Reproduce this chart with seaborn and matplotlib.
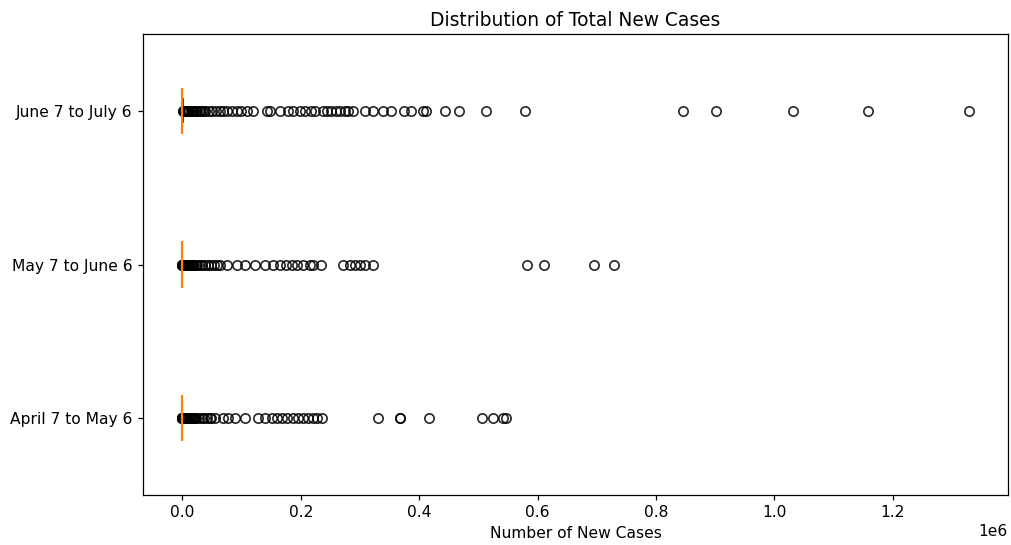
import matplotlib
matplotlib.use("Agg")
import matplotlib.pyplot as plt
import matplotlib.colors as mcolors
import seaborn as sns
import pandas as pd

periods = ["June 7 to July 6", "May 7 to June 6", "April 7 to May 6"]

# many near-zero daily values (inside the collapsed box)
june_core = [
    0, 0, 0, 0, 0, 0, 0, 0, 0, 0, 0, 0, 0, 0, 0, 0, 0, 0, 0, 0,
    0, 0, 0, 0, 0, 0, 0, 0, 0, 0, 0, 0, 0, 0, 0, 0, 0, 0, 0, 0,
    0, 0, 0, 0, 0, 0, 0, 0, 0, 0, 0, 0, 0, 0, 0, 0, 0, 0, 0, 0,
    0, 0, 0, 0, 0, 0, 0, 0, 0, 0, 0, 0, 0, 0, 0, 0, 0, 0, 0, 0,
    0, 0, 0, 0, 0, 0, 0, 0, 0, 0, 0, 0, 0, 0, 0, 0, 0, 0, 0, 0,
    0, 0, 0, 0, 0, 0, 0, 0, 0, 0, 0, 0, 0, 0, 0, 0, 0, 0, 0, 0,
    0, 0, 0, 0, 0, 0, 0, 0, 0, 0, 0, 0, 0, 0, 0, 0, 0, 0, 0, 0,
    0, 0, 0, 0, 0, 0, 0, 0, 0, 0, 0, 0, 0, 0, 0, 0, 0, 0, 0, 0,
    0, 0, 0, 0, 0, 1, 1, 1, 1, 2, 2, 2, 3, 3, 4, 4, 5, 5, 6, 7,
    8, 9, 10, 11, 12, 14, 15, 17, 19, 21, 23, 25, 28, 31, 34, 37, 41, 45, 49, 54,
    59, 64, 70, 76, 83, 90, 98, 106, 115, 125, 135, 146, 158, 170, 183, 197, 212, 228, 245, 263,
]
may_core = [
    0, 0, 0, 0, 0, 0, 0, 0, 0, 0, 0, 0, 0, 0, 0, 0, 0, 0, 0, 0,
    0, 0, 0, 0, 0, 0, 0, 0, 0, 0, 0, 0, 0, 0, 0, 0, 0, 0, 0, 0,
    0, 0, 0, 0, 0, 0, 0, 0, 0, 0, 0, 0, 0, 0, 0, 0, 0, 0, 0, 0,
    0, 0, 0, 0, 0, 0, 0, 0, 0, 0, 0, 0, 0, 0, 0, 0, 0, 0, 0, 0,
    0, 0, 0, 0, 0, 0, 0, 0, 0, 0, 0, 0, 0, 0, 0, 0, 0, 0, 0, 0,
    0, 0, 0, 0, 0, 0, 0, 0, 0, 0, 0, 0, 0, 0, 0, 0, 0, 0, 0, 0,
    0, 0, 0, 0, 0, 0, 0, 0, 0, 0, 0, 0, 0, 0, 0, 0, 0, 0, 0, 0,
    0, 0, 0, 0, 0, 0, 0, 0, 0, 0, 0, 0, 0, 0, 0, 0, 0, 0, 0, 0,
    0, 0, 0, 0, 1, 1, 1, 2, 2, 2, 3, 3, 3, 4, 5, 5, 6, 7, 8, 9,
    10, 11, 12, 13, 15, 16, 18, 20, 22, 24, 27, 30, 33, 36, 40, 44, 48, 53, 58, 63,
    69, 75, 82, 89, 97, 105, 114, 124, 134, 145, 157, 169, 182, 196, 211, 227, 244, 262, 281, 300,
]
april_core = [
    0, 0, 0, 0, 0, 0, 0, 0, 0, 0, 0, 0, 0, 0, 0, 0, 0, 0, 0, 0,
    0, 0, 0, 0, 0, 0, 0, 0, 0, 0, 0, 0, 0, 0, 0, 0, 0, 0, 0, 0,
    0, 0, 0, 0, 0, 0, 0, 0, 0, 0, 0, 0, 0, 0, 0, 0, 0, 0, 0, 0,
    0, 0, 0, 0, 0, 0, 0, 0, 0, 0, 0, 0, 0, 0, 0, 0, 0, 0, 0, 0,
    0, 0, 0, 0, 0, 0, 0, 0, 0, 0, 0, 0, 0, 0, 0, 0, 0, 0, 0, 0,
    0, 0, 0, 0, 0, 0, 0, 0, 0, 0, 0, 0, 0, 0, 0, 0, 0, 0, 0, 0,
    0, 0, 0, 0, 0, 0, 0, 0, 0, 0, 0, 0, 0, 0, 0, 0, 0, 0, 0, 0,
    0, 0, 0, 0, 0, 0, 0, 0, 0, 0, 0, 0, 0, 0, 0, 0, 0, 0, 0, 0,
    0, 0, 0, 0, 0, 0, 1, 1, 1, 1, 2, 2, 2, 3, 3, 4, 4, 5, 6, 7,
    8, 9, 10, 11, 12, 13, 15, 17, 19, 21, 23, 26, 29, 32, 35, 39, 43, 47, 52, 57,
    62, 68, 74, 81, 88, 96, 104, 113, 123, 133, 144, 156, 168, 181, 195, 210, 226, 243, 261, 280,
]

# dense cluster of smaller outliers
june_small = [400, 900, 1500, 2200, 3000, 4000, 5000, 6200, 7500, 9000, 10500, 12200,
              14000, 16000, 18000, 20200, 22500, 25000, 27500, 30200, 33000, 36000,
              39000, 45000, 51000, 57000, 63000]
may_small = [400, 900, 1400, 2000, 2800, 3700, 4600, 5700, 7000, 8400, 9800, 11400,
             13000, 14700, 16500, 18500, 20500, 22700, 25000, 29500, 34000, 39000,
             44000, 48000, 53000]
april_small = [400, 900, 1400, 2000, 2800, 3600, 4500, 5600, 6800, 8100, 9500, 11000,
               12500, 14200, 16000, 17900, 19800, 21900, 24000, 28500, 33000, 37500,
               42000, 46000, 49000]

# larger outliers
june_large = [68000, 75000, 84000, 92000, 100000, 109000, 120000, 142600, 148000, 165000,
              179000, 187000, 199000, 207000, 218000, 224000, 238000, 243600, 252000,
              260000, 266000, 274000, 280000, 289000, 308000, 322000, 339000, 353000,
              375000, 387000, 406000, 412000, 443000, 468000, 513000, 578000,
              845000, 902000, 1032000, 1158000, 1328000]
may_large = [58000, 64000, 75300, 92000, 106000, 123000, 140000, 153700, 165000, 176000,
             184700, 193000, 204000, 215500, 221000, 235000, 271500, 283000, 291000,
             299700, 308000, 322000, 582000, 611000, 695000, 729000]
april_large = [55000, 69500, 78000, 89000, 106000, 128500, 139700, 151000, 159400,
               167800, 176300, 187400, 195800, 204200, 212600, 221000, 226800, 235200,
               330500, 367000, 368500, 417500, 507000, 524000, 541000, 546600]

june_vals = june_core + june_small + june_large
may_vals = may_core + may_small + may_large
april_vals = april_core + april_small + april_large

df = pd.DataFrame({
    "period": [periods[0]] * len(june_vals) + [periods[1]] * len(may_vals)
              + [periods[2]] * len(april_vals),
    "cases": june_vals + may_vals + april_vals,
})

fig = plt.figure(figsize=(10.11, 5.45), dpi=100)
ax = fig.add_axes([0.1414, 0.0917, 0.997 - 0.1414, 0.9376 - 0.0917])

MEDIAN_COLOR = "#ff7f0e"
sns.boxplot(
    data=df, x="cases", y="period", order=periods, ax=ax,
    width=0.3, whis=1.5, color="white", linecolor="black", linewidth=1.1,
    medianprops=dict(color=MEDIAN_COLOR, linewidth=1.6),
    flierprops=dict(marker="o", markerfacecolor="none", markeredgecolor="black",
                    markersize=6.7, markeredgewidth=1.2, alpha=0.85),
)

# bring median lines on top of everything (as in the reference)
for ln in ax.lines:
    if mcolors.same_color(ln.get_color(), MEDIAN_COLOR):
        ln.set_zorder(20)
        ln.set_alpha(1)

ax.set_title("Distribution of Total New Cases", fontsize=13.4)
ax.set_xlabel("Number of New Cases", fontsize=11.2)
ax.set_ylabel("")
ax.tick_params(labelsize=11.2, width=0.9, length=3.9)
ax.xaxis.get_offset_text().set_fontsize(11.2)
for s in ax.spines.values():
    s.set_visible(True)
    s.set_color("black")
    s.set_linewidth(0.9)

fig.savefig("out.png", dpi=100)
